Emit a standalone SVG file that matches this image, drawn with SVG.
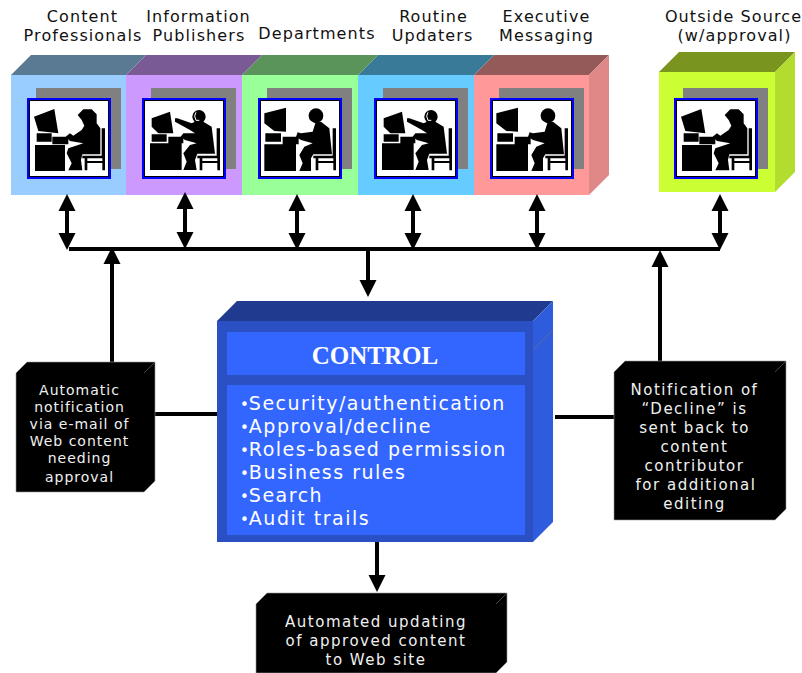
<svg xmlns="http://www.w3.org/2000/svg" xmlns:xlink="http://www.w3.org/1999/xlink" width="802" height="673" viewBox="0 0 802 673">
<style>
text{font-family:"DejaVu Sans",Verdana,sans-serif;text-anchor:middle}
.h{font-size:16px;fill:#111;letter-spacing:1.1px}
.n{font-size:14px;fill:#f0f0f0;letter-spacing:1px}
.r{font-size:15px;fill:#f0f0f0;letter-spacing:1.5px}
.l{font-size:19px;fill:#fff;text-anchor:start;letter-spacing:1.5px}
.d{font-size:15px;letter-spacing:0}
.t{font-family:"Liberation Serif",serif;font-weight:bold;font-size:25px;fill:#fff}
.w{stroke:#000;stroke-width:4;fill:none}
.b{fill:#000;stroke:#999;stroke-width:.6}
.f{stroke:#777;stroke-width:.6;fill:none}
</style>
<defs>
<marker id="a" markerUnits="userSpaceOnUse" markerWidth="18" markerHeight="18" refX="8" refY="9" orient="auto-start-reverse"><path d="M0 0.500L17 9L0 17.500Z"/></marker>
<g id="frame">
<rect x="36" y="88" width="85" height="81" fill="#808080"/>
<rect x="27" y="98" width="84" height="81" fill="#00f"/>
<rect x="29" y="100" width="80" height="77" fill="#000"/>
<rect x="30" y="101" width="78" height="75" fill="#fff"/>
</g>
<path id="chair" fill-rule="evenodd" d="M230 100H240V226H232V204H187V226H179V190H172V182H230Z M187 190V198H232V190Z"/>
<g id="woman"><use xlink:href="#frame"/>
<g transform="translate(25 95) scale(.3333)">
<path d="M27 65L88 42L100 115L40 108Z M35 115H80V140H35Z M82 125H130V148H82Z M30 150H120V228H30Z"/>
<use xlink:href="#chair"/>
<path d="M158 60L175 43H200L215 58V85L226 100V178H172L168 195L172 226H130L140 205L125 175L130 160L175 145L135 138L122 125L135 115L145 122L170 105L178 92L170 75Z"/>
</g></g>
<g id="man"><use xlink:href="#frame"/>
<g transform="translate(25 95) scale(.3333)">
<path d="M25 55L90 38V110L55 108L25 85Z M28 115H75V140H28Z M80 125H128V148H80Z M25 148H120V228H25Z"/>
<use xlink:href="#chair"/>
<circle cx="180" cy="62" r="22"/>
<path d="M158 58L165 66L160 70Z M170 80H195L220 100L228 178H172L165 190V228H130L140 205L130 180L145 155L170 145L135 135L120 125L125 112L135 115L170 110L178 85Z"/>
</g></g>
<g id="phone"><use xlink:href="#frame"/>
<g transform="translate(25 95) scale(.3333)">
<path d="M35 70L90 50L100 115L55 115L35 95Z M35 118H80V140H35Z M85 125H130V145H85Z M30 145H125V225H30Z"/>
<use xlink:href="#chair"/>
<circle cx="177" cy="65" r="20"/>
<path d="M105 70H112L155 85L165 80H190L215 95L225 176H172L165 195L170 225H130L140 200L130 175L150 150L170 145L135 135L122 125L130 115H165L150 105L105 80Z"/>
<path d="M168 52Q160 62 168 76L178 76" stroke="#fff" stroke-width="3" fill="none"/>
</g></g>
</defs>

<g id="labels">
<text class="h" x="82.500" y="22">Content</text><text class="h" x="83" y="41">Professionals</text>
<text class="h" x="198.500" y="22">Information</text><text class="h" x="199" y="41">Publishers</text>
<text class="h" x="317" y="39">Departments</text>
<text class="h" x="433.500" y="22">Routine</text><text class="h" x="432.500" y="41">Updaters</text>
<text class="h" x="546.500" y="22">Executive</text><text class="h" x="546.500" y="41">Messaging</text>
<text class="h" x="733.500" y="22">Outside Source</text><text class="h" x="734.500" y="41">(w/approval)</text>
</g>

<g id="node-executive">
<path d="M474 75L494 55H609L589 75Z" fill="#945a5a"/><path d="M589 75L609 55V175L589 195Z" fill="#e08888"/>
<rect x="474" y="75" width="115" height="120" fill="#f99"/><use xlink:href="#man" x="463"/></g>
<g id="node-routine">
<path d="M358 75L378 55H494L474 75Z" fill="#3a7a99"/>
<rect x="358" y="75" width="116" height="120" fill="#6cf"/><use xlink:href="#phone" x="347"/></g>
<g id="node-departments">
<path d="M242 75L262 55H378L358 75Z" fill="#5a945a"/>
<rect x="242" y="75" width="116" height="120" fill="#9f9"/><use xlink:href="#man" x="231"/></g>
<g id="node-publishers">
<path d="M126 75L146 55H262L242 75Z" fill="#7a5a94"/>
<rect x="126" y="75" width="116" height="120" fill="#c9f"/><use xlink:href="#phone" x="115"/></g>
<g id="node-content">
<path d="M11 75L31 55H146L126 75Z" fill="#5a7a94"/>
<rect x="11" y="75" width="115" height="120" fill="#9cf"/><use xlink:href="#woman"/></g>
<g id="node-outside">
<path d="M659 72L679 52H795L775 72Z" fill="#7a9420"/><path d="M775 72L795 52V172L775 192Z" fill="#b3dd2e"/>
<rect x="659" y="72" width="116" height="120" fill="#cf3"/><use xlink:href="#woman" x="647"/></g>

<g id="connectors">
<path class="w" d="M69 249H720"/>
<path class="w" d="M67 203V241" marker-start="url(#a)" marker-end="url(#a)"/>
<path class="w" d="M185 201V240" marker-start="url(#a)" marker-end="url(#a)"/>
<path class="w" d="M297 203V241" marker-start="url(#a)" marker-end="url(#a)"/>
<path class="w" d="M413 203V241" marker-start="url(#a)" marker-end="url(#a)"/>
<path class="w" d="M537 203V241" marker-start="url(#a)" marker-end="url(#a)"/>
<path class="w" d="M720 203V241" marker-start="url(#a)" marker-end="url(#a)"/>
<path class="w" d="M112 363V256" marker-end="url(#a)"/>
<path class="w" d="M660 362V259" marker-end="url(#a)"/>
<path class="w" d="M368 250V288" marker-end="url(#a)"/>
<path class="w" d="M155 414H218"/>
<path class="w" d="M555 417H615"/>
<path class="w" d="M377 542V583" marker-end="url(#a)"/>
</g>

<g id="node-control">
<path d="M217 321L237 301H553L533 321Z" fill="#203a90"/>
<path d="M533 321L553 301V522L533 542Z" fill="#2f5cdc"/>
<path class="f" d="M533 350L553 330" stroke="#3a68e8"/>
<rect x="217" y="321" width="316" height="221" fill="#2a50c4"/>
<rect x="227" y="332" width="298" height="43" fill="#36f"/>
<rect x="227" y="385" width="298" height="150" fill="#36f"/>
<text class="t" x="375" y="364">CONTROL</text>
<text class="l" x="240" y="410"><tspan class="d">•</tspan>Security/authentication</text>
<text class="l" x="240" y="433"><tspan class="d">•</tspan>Approval/decline</text>
<text class="l" x="240" y="456"><tspan class="d">•</tspan>Roles-based permission</text>
<text class="l" x="240" y="479"><tspan class="d">•</tspan>Business rules</text>
<text class="l" x="240" y="502"><tspan class="d">•</tspan>Search</text>
<text class="l" x="240" y="525"><tspan class="d">•</tspan>Audit trails</text>
</g>

<g id="node-notify">
<path class="b" d="M16 373L27 362H155V481L144 492H16Z"/><path class="f" d="M144 373L155 362"/>
<text class="n" x="79.500" y="395">Automatic</text><text class="n" x="79.500" y="412">notification</text><text class="n" x="79.500" y="429">via e-mail of</text><text class="n" x="79.500" y="446">Web content</text><text class="n" x="79.500" y="463">needing</text><text class="n" x="79.500" y="482">approval</text>
</g>
<g id="node-decline">
<path class="b" d="M614 372L625 361H786V509L775 520H614Z"/><path class="f" d="M775 372L786 361"/>
<text class="r" x="694.500" y="395">Notification of</text><text class="r" x="694.500" y="414">“Decline” is</text><text class="r" x="694.500" y="433">sent back to</text><text class="r" x="694.500" y="452">content</text><text class="r" x="694.500" y="471">contributor</text><text class="r" x="696" y="490">for additional</text><text class="r" x="694.500" y="509">editing</text>
</g>
<g id="node-update">
<path class="b" d="M256 604L267 593H507V662L496 673H256Z"/><path class="f" d="M496 604L507 593"/>
<text class="r" x="376" y="627">Automated updating</text><text class="r" x="376" y="646">of approved content</text><text class="r" x="376" y="665">to Web site</text>
</g>
</svg>
